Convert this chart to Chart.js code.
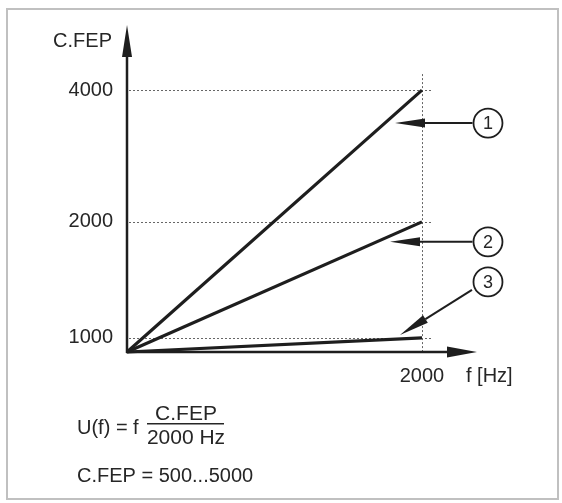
<!DOCTYPE html>
<html>
<head>
<meta charset="utf-8">
<script src="https://cdn.jsdelivr.net/npm/chart.js@4/dist/chart.umd.min.js"></script>
<style>
  html, body { margin: 0; padding: 0; background: #ffffff; }
  canvas { display: block; }
</style>
</head>
<body>
<canvas id="c" width="562" height="503"></canvas>
<script>
// ---- data ----
const freqHz = [0, 2000];                 // f [Hz]
const curve1 = [0, 4000];                 // C.FEP = 4000
const curve2 = [0, 2000];                 // C.FEP = 2000
const curve3 = [0, 1000];                 // C.FEP = 1000
const curveLabels = ['1', '2', '3'];
const yTickValues = [1000, 2000, 4000];
const xTickValues = [2000];
const yAxisTitle = 'C.FEP';
const xAxisTitle = 'f [Hz]';
const formulaLeft = 'U(f) = f';
const formulaNum = 'C.FEP';
const formulaDen = '2000 Hz';
const rangeText = 'C.FEP = 500...5000';

// ---- schematic (non-proportional) value axis ----
class PiecewiseScale extends Chart.LinearScale {
  getPixelForValue(v) {
    const s = this.options.stops;
    let f;
    if (v <= s[0][0]) f = s[0][1];
    else if (v >= s[s.length - 1][0]) f = s[s.length - 1][1];
    else {
      for (let i = 1; i < s.length; i++) {
        if (v <= s[i][0]) {
          const t = (v - s[i - 1][0]) / (s[i][0] - s[i - 1][0]);
          f = s[i - 1][1] + t * (s[i][1] - s[i - 1][1]);
          break;
        }
      }
    }
    return this.getPixelForDecimal(f);
  }
  getValueForPixel(p) {
    const s = this.options.stops;
    const f = this.getDecimalForPixel(p);
    for (let i = 1; i < s.length; i++) {
      if (f <= s[i][1]) {
        const t = (f - s[i - 1][1]) / (s[i][1] - s[i - 1][1]);
        return s[i - 1][0] + t * (s[i][0] - s[i - 1][0]);
      }
    }
    return s[s.length - 1][0];
  }
}
PiecewiseScale.id = 'piecewise';
PiecewiseScale.defaults = Chart.LinearScale.defaults;
Chart.register(PiecewiseScale);

const INK = '#1e1e1e';
const TXT = '#262626';
const FONT = '"Liberation Sans", Arial, sans-serif';

function arrowHead(ctx, tx, ty, fx, fy, len, half) {
  const a = Math.atan2(ty - fy, tx - fx);
  const bx = tx - len * Math.cos(a), by = ty - len * Math.sin(a);
  const nx = -Math.sin(a) * half, ny = Math.cos(a) * half;
  ctx.beginPath();
  ctx.moveTo(tx, ty);
  ctx.lineTo(bx + nx, by + ny);
  ctx.lineTo(bx - nx, by - ny);
  ctx.closePath();
  ctx.fill();
  return [bx, by];
}

const schematic = {
  id: 'schematic',
  beforeDatasetsDraw(chart) {
    const ctx = chart.ctx;
    const xs = chart.scales.x, ys = chart.scales.y;
    const x0 = xs.getPixelForValue(0), y0 = ys.getPixelForValue(0);
    const x2k = xs.getPixelForValue(xTickValues[0]);
    ctx.save();
    // frame
    ctx.strokeStyle = '#c0c0c0';
    ctx.lineWidth = 2;
    ctx.strokeRect(7, 9, 551, 490);
    // dotted guides
    ctx.strokeStyle = '#666666';
    ctx.lineWidth = 1;
    ctx.setLineDash([2, 2]);
    yTickValues.forEach(v => {
      const y = Math.round(ys.getPixelForValue(v)) + 0.5;
      ctx.beginPath();
      ctx.moveTo(x0 + 2, y);
      ctx.lineTo(x2k + 11, y);
      ctx.stroke();
    });
    ctx.beginPath();
    ctx.moveTo(Math.round(x2k) + 0.5, ys.getPixelForValue(4000) - 16);
    ctx.lineTo(Math.round(x2k) + 0.5, y0);
    ctx.stroke();
    ctx.setLineDash([]);
    // axes
    ctx.strokeStyle = INK;
    ctx.fillStyle = INK;
    ctx.lineWidth = 2.5;
    const top = chart.chartArea.top, right = chart.chartArea.right;
    ctx.beginPath();
    ctx.moveTo(x0, y0 + 1);
    ctx.lineTo(x0, top + 20);
    ctx.stroke();
    arrowHead(ctx, x0, top, x0, y0, 32, 5);
    ctx.beginPath();
    ctx.moveTo(x0 - 1, y0);
    ctx.lineTo(right - 20, y0);
    ctx.stroke();
    arrowHead(ctx, right, y0, x0, y0, 30, 5.5);
    ctx.restore();
  },
  afterDatasetsDraw(chart) {
    const ctx = chart.ctx;
    const xs = chart.scales.x, ys = chart.scales.y;
    const x0 = xs.getPixelForValue(0), y0 = ys.getPixelForValue(0);
    const x2k = xs.getPixelForValue(xTickValues[0]);
    ctx.save();
    ctx.fillStyle = TXT;
    ctx.font = '20px ' + FONT;
    // y tick labels
    ctx.textAlign = 'right';
    ctx.textBaseline = 'middle';
    yTickValues.forEach(v => {
      ctx.fillText(String(v), x0 - 14, ys.getPixelForValue(v));
    });
    ctx.fillText(yAxisTitle, x0 - 15, chart.chartArea.top + 16);
    // x tick label + title
    ctx.textAlign = 'center';
    xTickValues.forEach(v => ctx.fillText(String(v), xs.getPixelForValue(v), y0 + 24));
    ctx.textAlign = 'left';
    ctx.fillText(xAxisTitle, x2k + 44, y0 + 24);

    // callouts
    const cx = x2k + 66, r = 14.5;
    const y4 = ys.getPixelForValue(curve1[1]);
    const y2 = ys.getPixelForValue(curve2[1]);
    const y1 = ys.getPixelForValue(curve3[1]);
    const circles = [
      { y: y4 + 33, tip: [x2k - 27, y4 + 33] },
      { y: y2 + 20, tip: [x2k - 32, y2 + 20] },
      { y: y1 - 56, tip: [x2k - 22, y1 - 3], from: [cx - 16, y1 - 48] }
    ];
    ctx.strokeStyle = INK;
    ctx.fillStyle = INK;
    circles.forEach((c, i) => {
      ctx.lineWidth = 1.8;
      ctx.beginPath();
      ctx.arc(cx, c.y, r, 0, Math.PI * 2);
      ctx.stroke();
      const from = c.from || [cx - r - 1, c.y];
      const base = arrowHead(ctx, c.tip[0], c.tip[1], from[0], from[1], 30, 4.5);
      ctx.lineWidth = 2;
      ctx.beginPath();
      ctx.moveTo(from[0], from[1]);
      ctx.lineTo(base[0], base[1]);
      ctx.stroke();
      ctx.fillStyle = TXT;
      ctx.font = '18px ' + FONT;
      ctx.textAlign = 'center';
      ctx.textBaseline = 'middle';
      ctx.fillText(curveLabels[i], cx, c.y + 1);
      ctx.fillStyle = INK;
    });

    // formula
    ctx.fillStyle = TXT;
    ctx.font = '20px ' + FONT;
    ctx.textBaseline = 'alphabetic';
    ctx.textAlign = 'left';
    ctx.fillText(formulaLeft, 77, 434);
    ctx.textAlign = 'center';
    ctx.font = '21px ' + FONT;
    ctx.fillText(formulaNum, 186, 420);
    ctx.fillText(formulaDen, 186, 444);
    ctx.fillRect(147, 423, 77, 1.5);
    ctx.font = '20px ' + FONT;
    ctx.textAlign = 'left';
    ctx.fillText(rangeText, 77, 482);
    ctx.restore();
  }
};

function pts(ys) { return freqHz.map((f, i) => ({ x: f, y: ys[i] })); }
const lineStyle = { borderColor: INK, borderWidth: 3.2, pointRadius: 0, fill: false, clip: false, tension: 0 };

new Chart(document.getElementById('c'), {
  type: 'line',
  data: {
    datasets: [
      Object.assign({ label: curveLabels[0], data: pts(curve1) }, lineStyle),
      Object.assign({ label: curveLabels[1], data: pts(curve2) }, lineStyle),
      Object.assign({ label: curveLabels[2], data: pts(curve3) }, lineStyle)
    ]
  },
  options: {
    responsive: false,
    animation: false,
    devicePixelRatio: 1,
    layout: { padding: { left: 127, top: 25, right: 85, bottom: 151 } },
    plugins: { legend: { display: false }, tooltip: { enabled: false } },
    scales: {
      x: { type: 'linear', min: 0, max: 2373, display: false },
      y: {
        type: 'piecewise', min: 0, max: 5000, display: false,
        stops: [[0, 0], [1000, 0.043], [2000, 0.398], [4000, 0.801], [5000, 1]]
      }
    }
  },
  plugins: [schematic]
});
</script>
</body>
</html>
